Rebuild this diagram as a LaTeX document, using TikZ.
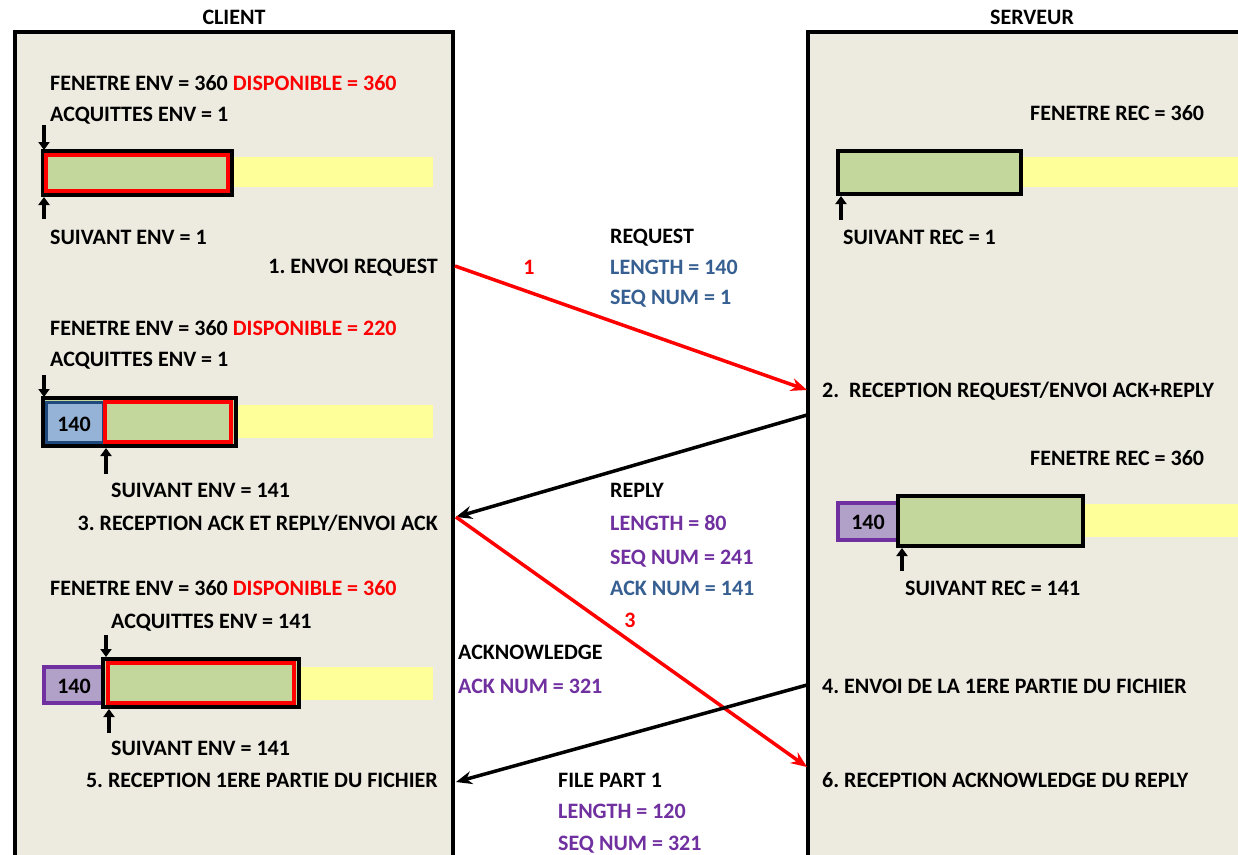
\documentclass[tikz,border=0pt]{standalone}
\usepackage{fontspec}
\setmainfont{Carlito}
\usetikzlibrary{arrows.meta}
\definecolor{panelbg}{HTML}{EDEAE0}
\definecolor{winfill}{HTML}{C3D69B}
\definecolor{freefill}{HTML}{FFFF99}
\definecolor{sentfill}{HTML}{95B3D7}
\definecolor{sentedge}{HTML}{1F497D}
\definecolor{ackfill}{HTML}{B1A0C7}
\definecolor{ackedge}{HTML}{7030A0}
\definecolor{txtblue}{HTML}{376092}
\definecolor{txtpurple}{HTML}{7030A0}
\definecolor{winred}{HTML}{FF0000}
\frenchspacing
\begin{document}
\begin{tikzpicture}[x=1pt,y=-1pt,
  txt/.style={inner sep=0pt, font=\fontsize{22}{26}\selectfont\bfseries},
  lbl/.style={txt, anchor=base west},
  lblr/.style={txt, anchor=base east},
  title/.style={txt, anchor=base},
  panel/.style={fill=panelbg, draw=black, line width=4pt},
  freeband/.style={fill=freefill},
  winbox/.style={fill=winfill, draw=black, line width=4pt},
  redbox/.style={draw=winred, line width=3.5pt},
  sentcell/.style={fill=sentfill, draw=sentedge, line width=3pt},
  ackcell/.style={fill=ackfill, draw=ackedge, line width=3.5pt},
  ptr/.style={line width=3.5pt, -{Triangle[length=8pt,width=11pt]}},
  msgred/.style={draw=winred, line width=3.5pt, -{Stealth[length=16pt,width=13pt]}},
  msgblack/.style={draw=black, line width=3.5pt, -{Stealth[length=16pt,width=13pt]}}]
\useasboundingbox (0,0) rectangle (1238,854);
\clip (0,0) rectangle (1238,854);
\fill[white] (0,0) rectangle (1238,854);

% the two hosts
\draw[panel] (15,32) rectangle (453,900);
\draw[panel] (808,32) rectangle (1300,900);
\node[title] (tclient) at (234,24) {CLIENT};
\node[title] (tserveur) at (1032,24) {SERVEUR};

% ---------- client, state 1
\node[lbl] (cf1) at (50,90) {FENETRE ENV = 360 \textcolor{winred}{DISPONIBLE = 360}};
\node[lbl] (ca1) at (50,121) {ACQUITTES ENV = 1};
\fill[freeband] (233,157) rectangle (433,187);
\draw[winbox] (43,151) rectangle (232,195);
\draw[redbox] (46,155) rectangle (228,191);
\coordinate (cd1a) at (44,125); \coordinate (cd1b) at (44,150);
\draw[ptr] (cd1a) -- (cd1b);
\coordinate (cu1a) at (44,219); \coordinate (cu1b) at (44,197);
\draw[ptr] (cu1a) -- (cu1b);
\node[lbl] (cs1) at (50,244) {SUIVANT ENV = 1};
\node[lblr] (step1) at (438,273) {1. ENVOI REQUEST};

% ---------- client, state 2
\node[lbl] (cf2) at (50,335) {FENETRE ENV = 360 \textcolor{winred}{DISPONIBLE = 220}};
\node[lbl] (ca2) at (50,366) {ACQUITTES ENV = 1};
\fill[freeband] (237,405) rectangle (433,438);
\draw[winbox] (43,398) rectangle (236,446);
\draw[sentcell] (46,402) rectangle (103,442);
\draw[redbox, fill=winfill] (105,402) rectangle (231,442);
\node[txt] (c140a) at (74,424) {140};
\coordinate (cd2a) at (44,375); \coordinate (cd2b) at (44,397);
\draw[ptr] (cd2a) -- (cd2b);
\coordinate (cu2a) at (106,474); \coordinate (cu2b) at (106,448);
\draw[ptr] (cu2a) -- (cu2b);
\node[lbl] (cs2) at (111,497) {SUIVANT ENV = 141};
\node[lblr] (step3) at (438,530) {3. RECEPTION ACK ET REPLY/ENVOI ACK};

% ---------- client, state 3
\node[lbl] (cf3) at (50,595) {FENETRE ENV = 360 \textcolor{winred}{DISPONIBLE = 360}};
\node[lbl] (ca3) at (111,628) {ACQUITTES ENV = 141};
\draw[ackcell] (44,667) rectangle (103,703);
\node[txt] (c140b) at (74,686) {140};
\fill[freeband] (300,667) rectangle (433,700);
\draw[winbox] (103,659) rectangle (299,707);
\draw[redbox] (108,663) rectangle (294,703);
\coordinate (cd3a) at (106,635); \coordinate (cd3b) at (106,657);
\draw[ptr] (cd3a) -- (cd3b);
\coordinate (cu3a) at (109,733); \coordinate (cu3b) at (109,709);
\draw[ptr] (cu3a) -- (cu3b);
\node[lbl] (cs3) at (111,755) {SUIVANT ENV = 141};
\node[lblr] (step5) at (438,787) {5. RECEPTION 1ERE PARTIE DU FICHIER};

% ---------- server, state 1
\node[lbl] (sf1) at (1030,120) {FENETRE REC = 360};
\fill[freeband] (1022,157) rectangle (1238,187);
\draw[winbox] (838,151) rectangle (1021,194);
\coordinate (su1a) at (841,220); \coordinate (su1b) at (841,196);
\draw[ptr] (su1a) -- (su1b);
\node[lbl] (ss1) at (843,244) {SUIVANT REC = 1};
\node[lbl] (step2) at (822,397) {2.\ \ RECEPTION REQUEST/ENVOI ACK+REPLY};

% ---------- server, state 2
\node[lbl] (sf2) at (1030,465) {FENETRE REC = 360};
\draw[ackcell] (838,503) rectangle (898,540);
\node[txt] (s140) at (868,522) {140};
\fill[freeband] (1085,504) rectangle (1238,537);
\draw[winbox] (898,496) rectangle (1083,546);
\coordinate (su2a) at (902,571); \coordinate (su2b) at (902,548);
\draw[ptr] (su2a) -- (su2b);
\node[lbl] (ss2) at (905,595) {SUIVANT REC = 141};
\node[lbl] (step4) at (822,693) {4. ENVOI DE LA 1ERE PARTIE DU FICHIER};
\node[lbl] (step6) at (822,787) {6. RECEPTION ACKNOWLEDGE DU REPLY};

% ---------- messages
\node[lbl] (mreq) at (610,243) {REQUEST};
\node[lbl, text=txtblue] (mreql) at (610,274) {LENGTH = 140};
\node[lbl, text=txtblue] (mreqs) at (610,304) {SEQ NUM = 1};
\node[title, text=winred] (n1) at (529,274) {1};

\node[lbl] (mrep) at (610,497) {REPLY};
\node[lbl, text=txtpurple] (mrepl) at (610,530) {LENGTH = 80};
\node[lbl, text=txtpurple] (mreps) at (610,564) {SEQ NUM = 241};
\node[lbl, text=txtblue] (mrepa) at (610,595) {ACK NUM = 141};
\node[title, text=winred] (n3) at (630,627) {3};

\node[lbl] (mack) at (458,659) {ACKNOWLEDGE};
\node[lbl, text=txtpurple] (macka) at (458,693) {ACK NUM = 321};

\node[lbl] (mfile) at (558,787) {FILE PART 1};
\node[lbl, text=txtpurple] (mfilel) at (558,818) {LENGTH = 120};
\node[lbl, text=txtpurple] (mfiles) at (558,850) {SEQ NUM = 321};

% message arrows between the two hosts
\coordinate (cReq) at (455,266);
\coordinate (sReq) at (807,390);
\coordinate (sRep) at (807,415);
\coordinate (cRep) at (456,517);
\coordinate (sAck) at (807,767);
\coordinate (sFile) at (807,685);
\coordinate (cFile) at (456,782);
\draw[msgred] (cReq) -- (sReq);
\draw[msgblack] (sRep) -- (cRep);
\draw[msgred] (cRep) -- (sAck);
\draw[msgblack] (sFile) -- (cFile);
\end{tikzpicture}
\end{document}
